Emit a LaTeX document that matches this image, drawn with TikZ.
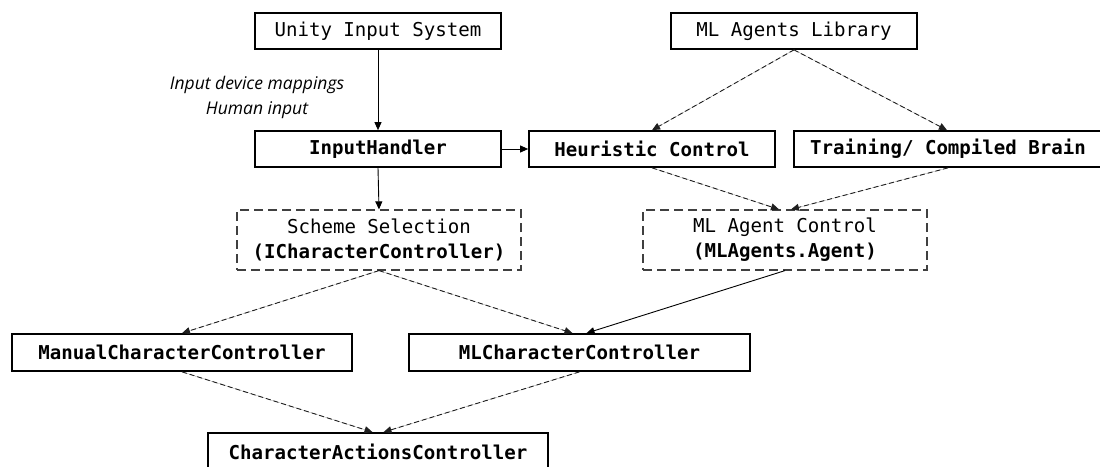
\documentclass[tikz,border=0pt]{standalone}
\usepackage{fontspec}
\setmonofont{DejaVu Sans Mono}
\newfontfamily\labelfont{Open Sans}
\usetikzlibrary{arrows.meta}
\tikzset{
  boxfont/.style={font=\ttfamily\fontsize{19.1}{25}\selectfont},
  solidbox/.style={draw=black, line width=1.7pt, minimum height=36pt, inner sep=0pt, boxfont, align=center},
  boldbox/.style={solidbox, font=\ttfamily\bfseries\fontsize{19.1}{25}\selectfont},
  dashbox/.style={draw=black!75, line width=1.2pt, dash pattern=on 9pt off 5pt, minimum height=60pt, inner sep=0pt, boxfont, align=center},
  conn/.style={line width=0.9pt, -{Triangle[length=8pt,width=7pt]}},
  dconn/.style={conn, draw=black!88, fill=black, dash pattern=on 5pt off 3pt},
  lbl/.style={font=\labelfont\itshape\fontsize{17.5}{25}\selectfont, align=center, inner sep=0pt}
}
\begin{document}
\begin{tikzpicture}[x=1pt,y=-1pt]
\clip (0,0) rectangle (1100,466);
\fill[white] (0,0) rectangle (1100,466);

\node[solidbox, minimum width=246pt] (unity) at (378,31) {Unity Input System};
\node[solidbox, minimum width=246pt] (mllib) at (794,31) {ML Agents Library};

\node[boldbox, minimum width=246pt] (input) at (378,149) {InputHandler};
\node[boldbox, minimum width=246pt] (heur) at (652,149) {Heuristic Control};
\node[boldbox, minimum width=308pt] (train) at (948,149) {Training/ Compiled Brain};

\node[dashbox, minimum width=284pt] (scheme) at (379,240) {Scheme Selection\\\textbf{(ICharacterController)}};
\node[dashbox, minimum width=284pt] (mlac) at (785,240) {ML Agent Control\\\textbf{(MLAgents.Agent)}};

\node[boldbox, minimum width=340pt, minimum height=37pt] (manual) at (182,352.5) {ManualCharacterController};
\node[boldbox, minimum width=341pt, minimum height=37pt] (mlchar) at (579.5,352.5) {MLCharacterController};

\node[boldbox, minimum width=340pt, minimum height=37pt] (actions) at (378,451.5) {CharacterActionsController};

\node[lbl] (maplbl) at (257,97) {Input device mappings\\Human input};

\draw[conn] (unity.south) -- (input.north);
\draw[conn] (input.east) -- (heur.west);
\draw[conn] (input.south) -- (scheme.north);

\draw[dconn] (mllib.south) -- (heur.north);
\draw[dconn] (mllib.south) -- ([xshift=-1pt]train.north);

\draw[dconn] (heur.south) -- ([xshift=-6pt]mlac.north);
\draw[dconn] (train.south) -- ([xshift=6pt]mlac.north);

\draw[dconn] (scheme.south) -- (manual.north);
\draw[dconn] (scheme.south) -- ([xshift=-7pt]mlchar.north);
\draw[conn] (mlac.south) -- ([xshift=7pt]mlchar.north);

\draw[dconn] (manual.south) -- ([xshift=-5.5pt]actions.north);
\draw[dconn] (mlchar.south) -- ([xshift=5.5pt]actions.north);
\end{tikzpicture}
\end{document}
